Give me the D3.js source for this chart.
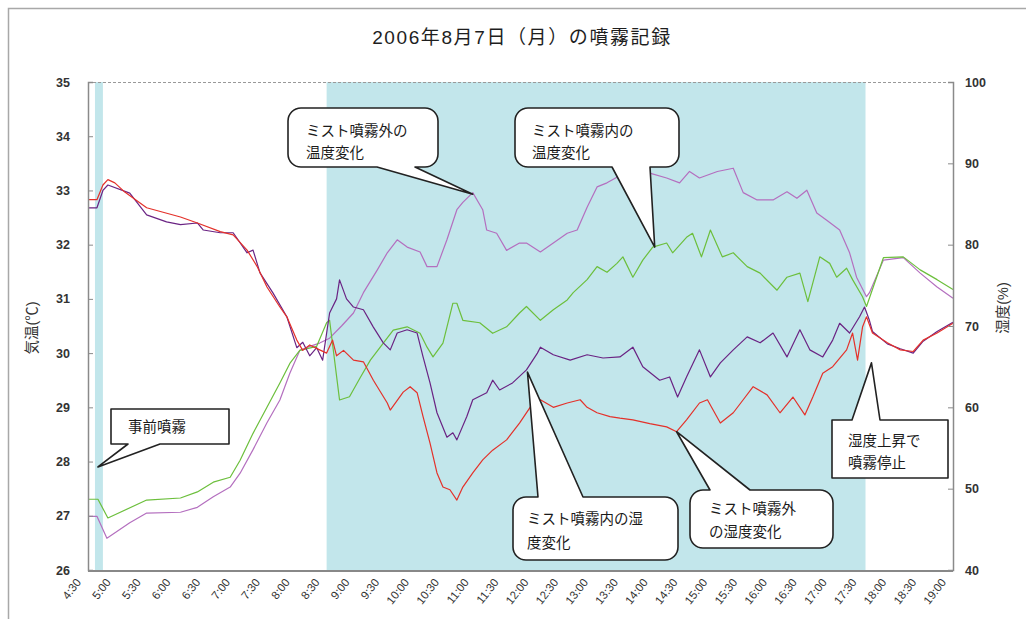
<!DOCTYPE html>
<html>
<head>
<meta charset="utf-8">
<script src="https://cdn.jsdelivr.net/npm/d3@7"></script>
<style>
  body { margin: 0; background: #fff; }
  svg { display: block; font-family: "Liberation Sans", "Noto Sans CJK JP", sans-serif; }
  .callout text { font-family: "Noto Sans CJK JP", sans-serif; font-size: 14.5px; fill: #1a1a1a; }
</style>
</head>
<body>
<svg id="chart" width="1026" height="619"></svg>
<script>
// temperature lines (left axis)
var tempOut = [["4:30",32.83],["4:39",32.83],["4:45",33.1],["4:50",33.2],["4:57",33.14],["5:07",32.97],["5:29",32.68],["6:03",32.51],["6:20",32.4],["6:43",32.24],["6:56",32.18],["7:10",31.9],["7:20",31.6],["7:30",31.22],["7:43",30.85],["7:50",30.67],["8:00",30.24],["8:06",30.05],["8:13",30.15],["8:23",30.06],["8:30",30.0],["8:36",30.24],["8:40",29.95],["8:47",30.05],["8:57",29.87],["9:07",29.84],["9:17",29.5],["9:31",29.08],["9:34",28.95],["9:47",29.28],["9:54",29.38],["10:01",29.27],["10:07",28.83],["10:14",28.34],["10:21",27.79],["10:27",27.53],["10:34",27.48],["10:41",27.29],["10:47",27.53],["10:57",27.79],["11:07",28.03],["11:17",28.21],["11:31",28.4],["11:44",28.71],["11:55",29.01],["12:05",29.14],["12:18",29.0],["12:32",29.08],["12:45",29.14],["12:52",29.0],["13:02",28.9],["13:15",28.83],["13:25",28.8],["13:38",28.77],["13:55",28.7],["14:12",28.64],["14:22",28.55],["14:32",28.77],["14:45",29.08],["14:53",29.14],["15:06",28.71],["15:19",28.9],["15:29",29.14],["15:39",29.38],["15:53",29.23],["16:06",28.9],["16:19",29.19],["16:31",28.86],["16:39",29.19],["16:49",29.63],["16:59",29.75],["17:13",30.06],["17:19",30.37],["17:24",29.87],["17:29",30.48],["17:33",30.67],["17:39",30.37],["17:54",30.19],["18:07",30.06],["18:20",30.03],["18:30",30.24],["18:44",30.37],["19:00",30.55]]

var tempIn = [["4:30",32.68],["4:39",32.68],["4:45",33.0],["4:50",33.1],["5:12",32.95],["5:29",32.55],["5:49",32.42],["6:03",32.37],["6:20",32.4],["6:26",32.27],["6:43",32.22],["6:56",32.22],["7:10",31.85],["7:16",31.9],["7:23",31.48],["7:36",31.11],["7:50",30.67],["8:00",30.1],["8:06",30.2],["8:13",29.95],["8:20",30.1],["8:26",29.87],["8:33",30.74],["8:40",31.0],["8:43",31.35],["8:50",31.0],["8:57",30.85],["9:07",30.8],["9:17",30.48],["9:27",30.19],["9:34",30.06],["9:41",30.37],["9:51",30.43],["10:01",30.37],["10:07",29.93],["10:14",29.45],["10:21",28.9],["10:31",28.45],["10:37",28.53],["10:41",28.4],["10:51",28.83],["10:57",29.14],["11:11",29.27],["11:17",29.5],["11:24",29.32],["11:37",29.45],["11:51",29.69],["12:02",30.0],["12:05",30.11],["12:18",29.97],["12:35",29.87],["12:52",29.97],["13:08",29.91],["13:25",29.93],["13:38",30.11],["13:48",29.75],["14:05",29.5],["14:15",29.56],["14:23",29.19],["14:32",29.56],["14:45",30.06],["14:56",29.56],["15:06",29.82],["15:19",30.06],["15:33",30.3],["15:46",30.19],["15:59",30.37],["16:13",29.93],["16:26",30.43],["16:36",30.06],["16:49",29.93],["16:59",30.24],["17:06",30.55],["17:16",30.37],["17:26",30.67],["17:31",30.85],["17:36",30.6],["17:39",30.4],["17:54",30.17],["18:07",30.08],["18:20",30.0],["18:30",30.22],["18:44",30.4],["19:00",30.57]]

// humidity lines (right axis)
var humidIn = [["4:30",48.7],["4:40",48.7],["4:50",46.4],["5:29",48.6],["6:03",48.85],["6:20",49.6],["6:36",50.8],["6:53",51.4],["7:03",53.5],["7:16",56.8],["7:30",60.0],["7:43",63.0],["7:53",65.4],["8:03",67.0],["8:20",67.5],["8:30",70.4],["8:33",70.7],["8:43",60.9],["8:53",61.3],["9:04",63.7],["9:14",65.8],["9:27",67.9],["9:37",69.5],["9:51",69.9],["10:04",69.1],["10:11",67.4],["10:17",66.2],["10:27",67.9],["10:37",72.8],["10:41",72.8],["10:47",70.7],["11:04",70.4],["11:17",69.1],["11:31",69.9],["11:44",71.6],["11:51",72.4],["12:05",70.7],["12:18",72.0],["12:32",73.2],["12:38",74.1],["12:52",75.7],["13:02",77.3],["13:12",76.6],["13:22",77.7],["13:28",78.5],["13:38",76.0],["13:48",78.1],["13:58",79.7],["14:12",80.2],["14:18",79.0],["14:32",80.9],["14:38",81.4],["14:47",78.5],["14:56",81.8],["15:08",78.5],["15:19",79.0],["15:33",77.3],["15:46",76.5],["16:03",74.4],["16:13",76.0],["16:26",76.5],["16:34",73.0],["16:46",78.5],["16:56",77.7],["17:03",76.0],["17:13",77.1],["17:19",75.7],["17:29",73.6],["17:33",72.4],["17:50",78.4],["18:10",78.5],["18:27",76.9],["18:44",75.7],["19:00",74.5]]

var humidOut = [["4:30",46.6],["4:39",46.6],["4:49",43.9],["5:12",45.8],["5:29",47.0],["6:03",47.1],["6:20",47.7],["6:36",49.0],["6:53",50.2],["7:03",51.9],["7:16",54.8],["7:30",58.1],["7:43",60.9],["7:53",64.2],["8:03",67.0],["8:13",67.5],["8:23",67.9],["8:33",68.5],["8:45",70.0],["8:57",71.6],["9:07",74.1],["9:21",76.9],["9:31",79.0],["9:41",80.6],["9:51",79.7],["10:04",79.1],["10:11",77.3],["10:21",77.3],["10:31",80.6],["10:41",84.3],["10:47",85.2],["10:57",86.4],["11:07",84.3],["11:11",81.8],["11:21",81.4],["11:31",79.3],["11:44",80.2],["11:51",80.2],["12:05",79.1],["12:18",80.2],["12:32",81.4],["12:42",81.8],["12:52",84.6],["13:02",87.1],["13:12",87.6],["13:22",88.3],["13:38",87.9],["13:55",88.8],["14:12",88.2],["14:25",87.6],["14:35",89.0],["14:45",88.2],["15:03",89.0],["15:19",89.4],["15:29",86.4],["15:43",85.5],["15:59",85.5],["16:13",86.5],["16:23",85.7],["16:33",86.7],["16:43",83.9],["16:53",83.0],["17:06",81.8],["17:16",79.0],["17:23",76.0],["17:33",73.6],["17:36",74.1],["17:50",78.1],["18:10",78.4],["18:27",76.5],["18:44",74.8],["19:00",73.4]]

// mist spraying periods (shaded)
var sprayPeriods = [["4:37","4:45"],["8:30","17:32"]]

var tempTicks = [26, 27, 28, 29, 30, 31, 32, 33, 34, 35]
var humidTicks = [40, 50, 60, 70, 80, 90, 100]

// callouts: text lines, box (px), pointer base, tip in data units
var callouts = [
  { lines: ['ミスト噴霧外の', '温度変化'], box: [288, 108, 438, 167], r: 13, side: 'bottom', base: [377, 415], tip: ['10:57', 86.2, 'h'], tx: 306, ty: [136, 158] },
  { lines: ['ミスト噴霧内の', '温度変化'], box: [515, 108, 679, 167], r: 13, side: 'bottom', base: [612, 650], tip: ['14:00', 79.7, 'h'], tx: 532, ty: [136, 158] },
  { lines: ['事前噴霧'], box: [111, 409, 229, 444], r: 0, side: 'bottom', base: [128, 160], tip: ['4:40', 27.9, 't'], tx: 128, ty: [432] },
  { lines: ['ミスト噴霧内の湿', '度変化'], box: [513, 497, 678, 560], r: 13, side: 'top', base: [538, 583], tip: ['11:52', 29.65, 't'], tx: 527, ty: [524, 548] },
  { lines: ['ミスト噴霧外', 'の湿度変化'], box: [690, 490, 833, 548], r: 13, side: 'top', base: [710, 750], tip: ['14:22', 28.55, 't'], tx: 709, ty: [514, 537] },
  { lines: ['湿度上昇で', '噴霧停止'], box: [832, 420, 948, 478], r: 0, side: 'top', base: [852, 880], tip: ['17:38', 29.82, 't'], tx: 848, ty: [446, 468] }
]

var svg = d3.select('#chart')
var plotL = 88, plotR = 953, plotT = 82, plotB = 570
var parse = d3.timeParse('%H:%M')

var x = d3.scaleTime().domain([parse('4:30'), parse('19:00')]).range([plotL, plotR])
var yT = d3.scaleLinear().domain([26, 35]).range([plotB, plotT])
var yH = d3.scaleLinear().domain([40, 100]).range([plotB, plotT])

// outer frame
svg.append('rect').attr('x', 8.5).attr('y', 8.5).attr('width', 1030).attr('height', 640)
  .attr('fill', 'none').attr('stroke', '#a8a8a8').attr('stroke-width', 1.5)

svg.append('text').attr('x', 522).attr('y', 44).attr('text-anchor', 'middle')
  .style('font-size', '19px').style('letter-spacing', '1.6px').style('fill', '#1e1e1e')
  .text('2006年8月7日（月）の噴霧記録')

// shading
svg.selectAll('.spray').data(sprayPeriods).enter().append('rect')
  .attr('class', 'spray')
  .attr('x', function (d) { return x(parse(d[0])) })
  .attr('width', function (d) { return x(parse(d[1])) - x(parse(d[0])) })
  .attr('y', plotT).attr('height', plotB - plotT)
  .attr('fill', '#c2e6eb')

// plot frame
svg.append('line').attr('x1', plotL).attr('x2', plotR).attr('y1', plotT + 0.5).attr('y2', plotT + 0.5)
  .attr('stroke', '#999').attr('stroke-dasharray', '3,2')
svg.append('line').attr('x1', plotL).attr('x2', plotR).attr('y1', plotB + 1).attr('y2', plotB + 1)
  .attr('stroke', '#888').attr('stroke-width', 2)

var line = function (ys) {
  return d3.line().x(function (d) { return x(parse(d[0])) }).y(function (d) { return ys(d[1]) })
}

var series = [
  { data: humidOut, y: yH, color: '#b46fbf' },
  { data: humidIn, y: yH, color: '#6cbf3c' },
  { data: tempIn, y: yT, color: '#6a2383' },
  { data: tempOut, y: yT, color: '#e4312a' }
]
series.forEach(function (s) {
  svg.append('path').datum(s.data)
    .attr('fill', 'none').attr('stroke', s.color).attr('stroke-width', 1.2)
    .attr('stroke-linejoin', 'round')
    .attr('d', line(s.y))
})

// axes
var axL = svg.append('g').attr('transform', 'translate(' + plotL + ',0)')
  .call(d3.axisLeft(yT).tickValues(tempTicks).tickSize(-5).tickPadding(18))
var axR = svg.append('g').attr('transform', 'translate(' + plotR + ',0)')
  .call(d3.axisRight(yH).tickValues(humidTicks).tickSize(-5).tickPadding(12))
;[axL, axR].forEach(function (a) {
  a.select('.domain').attr('stroke', '#8a8a8a').attr('stroke-width', 1.5)
  a.selectAll('.tick line').attr('stroke', '#8a8a8a')
  a.selectAll('text').style('font-size', '12.5px').style('font-weight', 'bold').attr('fill', '#333')
})

var axB = svg.append('g').attr('transform', 'translate(0,' + plotB + ')')
  .call(d3.axisBottom(x).ticks(d3.timeMinute.every(30)).tickFormat(d3.timeFormat('%-H:%M')).tickSize(0))
axB.select('.domain').remove()
axB.selectAll('text')
  .attr('x', 0).attr('y', 0).attr('dy', '0.35em')
  .attr('text-anchor', 'end')
  .attr('transform', 'translate(-10,10) rotate(-52)')
  .style('font-size', '11.5px').attr('fill', '#333')

svg.append('text')
  .attr('transform', 'translate(37,328) rotate(-90)')
  .attr('text-anchor', 'middle').style('font-size', '14.5px').style('fill', '#333')
  .text('気温(℃)')
svg.append('text')
  .attr('transform', 'translate(1008,308) rotate(-90)')
  .attr('text-anchor', 'middle').style('font-size', '14.5px').style('fill', '#333')
  .text('湿度(%)')

// callouts
function bubblePath (c, tx, ty) {
  var x0 = c.box[0], y0 = c.box[1], x1 = c.box[2], y1 = c.box[3], r = c.r
  var a = c.base[0], b = c.base[1]
  var p = d3.path()
  p.moveTo(x0 + r, y0)
  if (c.side === 'top') { p.lineTo(a, y0); p.lineTo(tx, ty); p.lineTo(b, y0) }
  p.lineTo(x1 - r, y0)
  if (r) p.arcTo(x1, y0, x1, y0 + r, r)
  p.lineTo(x1, y1 - r)
  if (r) p.arcTo(x1, y1, x1 - r, y1, r)
  if (c.side === 'bottom') { p.lineTo(b, y1); p.lineTo(tx, ty); p.lineTo(a, y1) }
  p.lineTo(x0 + r, y1)
  if (r) p.arcTo(x0, y1, x0, y1 - r, r)
  p.lineTo(x0, y0 + r)
  if (r) p.arcTo(x0, y0, x0 + r, y0, r)
  p.closePath()
  return p.toString()
}

var cg = svg.selectAll('.callout').data(callouts).enter().append('g').attr('class', 'callout')
cg.append('path')
  .attr('d', function (c) {
    var tx = x(parse(c.tip[0]))
    var ty = (c.tip[2] === 'h' ? yH : yT)(c.tip[1])
    return bubblePath(c, tx, ty)
  })
  .attr('fill', '#fff').attr('stroke', '#222').attr('stroke-width', 1.6)
  .attr('stroke-linejoin', 'round')
cg.each(function (c) {
  var g = d3.select(this)
  c.lines.forEach(function (t, i) {
    g.append('text').attr('x', c.tx).attr('y', c.ty[i]).text(t)
  })
})
</script>
</body>
</html>
